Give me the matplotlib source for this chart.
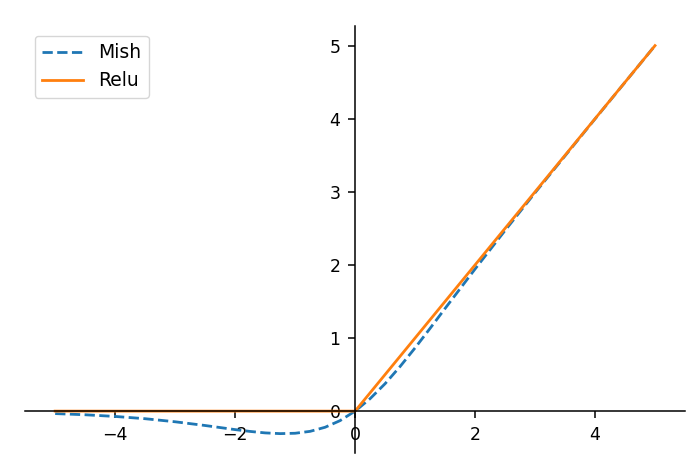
import matplotlib.pyplot as plt

# Sample points
x_mish = [-5.0, -4.5, -4.0, -3.5, -3.0, -2.5, -2.0, -1.75, -1.5, -1.25, -1.0,
          -0.75, -0.5, -0.25, 0.0, 0.25, 0.5, 0.75, 1.0, 1.25, 1.5, 2.0, 2.5,
          3.0, 4.0, 5.0]
y_mish = [-0.034, -0.050, -0.073, -0.104, -0.146, -0.197, -0.253, -0.278,
          -0.298, -0.308, -0.303, -0.277, -0.221, -0.130, 0.0, 0.170, 0.375,
          0.610, 0.865, 1.132, 1.404, 1.944, 2.471, 2.987, 3.997, 5.0]

x_relu = [-5.0, 0.0, 5.0]
y_relu = [0.0, 0.0, 5.0]

plt.rcParams['font.size'] = 12.5

fig = plt.figure(figsize=(6.99, 4.68), dpi=100)
ax = fig.add_axes([0.036, 0.032, 0.944, 0.912])

ax.plot(x_mish, y_mish, '--', color='#1f77b4', linewidth=2, label='Mish')
ax.plot(x_relu, y_relu, '-', color='#ff7f0e', linewidth=2, label='Relu')

# Axes through the origin
ax.spines['left'].set_position('zero')
ax.spines['bottom'].set_position('zero')
ax.spines['top'].set_visible(False)
ax.spines['right'].set_visible(False)
for s in ['left', 'bottom']:
    ax.spines[s].set_linewidth(1.1)

ax.set_xticks([-4, -2, 0, 2, 4])
ax.set_yticks([0, 1, 2, 3, 4, 5])
ax.tick_params(length=5, width=1.1, pad=5.5)
ax.legend(loc='upper left', fontsize=13.5, handlelength=2.2)

plt.savefig('out.png')
